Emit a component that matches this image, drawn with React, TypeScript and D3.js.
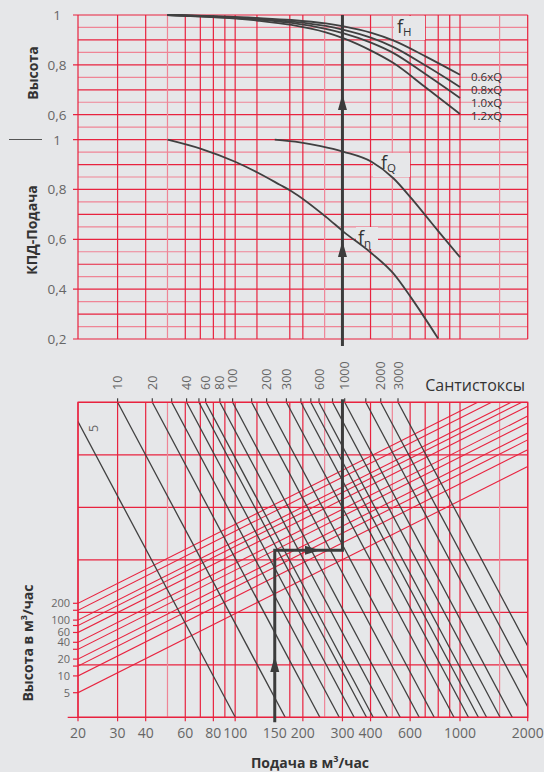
import React from "react";
import * as d3 from "d3";

// ---------- data ----------
const qTickLabels = [20, 30, 40, 60, 80, 100, 150, 200, 300, 400, 600, 1000, 2000];
const qGridBright = [20, 30, 40, 60, 70, 80, 90, 100, 125, 175, 200, 300, 400, 600, 700, 800, 900, 1000, 2000];
const qGridLight = [50, 250, 500, 1500];

const topAxisTicks = [1, 0.8, 0.6];
const midAxisTicks = [1, 0.8, 0.6, 0.4, 0.2];

// f_H curves (Q on shared axis, factor value)
const fhQ = [50, 125, 178, 253, 304, 404, 504, 709, 1000];
const fH06 = [1.0, 0.988, 0.98, 0.966, 0.954, 0.928, 0.898, 0.832, 0.76];
const fH08 = [1.0, 0.985, 0.974, 0.956, 0.94, 0.908, 0.872, 0.795, 0.711];
const fH10 = [1.0, 0.982, 0.968, 0.944, 0.926, 0.888, 0.848, 0.76, 0.667];
const fH12 = [1.0, 0.978, 0.96, 0.93, 0.906, 0.856, 0.808, 0.707, 0.603];
const fhLabels = ["0.6xQ", "0.8xQ", "1.0xQ", "1.2xQ"];

// f_Q curve
const fqQ = [150, 194, 240, 304, 404, 504, 608, 709, 812, 1000];
const fqV = [1.0, 0.989, 0.974, 0.951, 0.911, 0.846, 0.764, 0.691, 0.626, 0.528];

// f_eta curve
const feQ = [50, 70, 100, 125, 158, 178, 255, 302, 404, 504, 608, 799];
const feV = [1.0, 0.964, 0.911, 0.869, 0.819, 0.793, 0.688, 0.632, 0.544, 0.464, 0.364, 0.202];

// viscosity lines (cSt) and the Q where each crosses the top edge of the nomogram
const viscValues = [5, 10, 20, 30, 40, 50, 60, 80, 100, 150, 200, 300, 400, 500, 600, 800, 1000, 1500, 2000, 3000];
const viscTopQ = [18, 30, 42.8, 52.2, 60.8, 69, 73.9, 85.5, 97.4, 118.4, 138, 169, 196, 217, 236, 271, 307, 381, 444, 530];
const viscShown = [10, 20, 40, 60, 80, 100, 200, 300, 600, 1000, 2000, 3000];

// head lines (m)
const headValues = [200, 150, 100, 80, 60, 40, 30, 20, 15, 10, 5];
const headShown = [200, 100, 60, 40, 20, 10, 5];

// example path
const exampleQ = 150;
const exampleHead = 30;
const correctedQ = 300;

const RED = "#e8233f";
const PINK = "#ef8596";
const DARK = "#404040";
const BG = "#e6e7e9";
const FONT = "'Open Sans', 'Noto Sans', sans-serif";

export default function App() {
  const W = 544, H = 772;
  const xQ = d3.scaleLog().domain([20, 2000]).range([78, 527.7]);
  const yTop = d3.scaleLinear().domain([1, 0.6]).range([15, 114.7]);
  const yMid = d3.scaleLinear().domain([1, 0.2]).range([139.6, 339]);
  const yHead = d3.scaleLog().domain([5, 200]).range([692.7, 603.3]);
  const bTop = 402.3, bBot = 717.3;
  const headSlope = 0.503;
  const viscSlope = 1.88;
  const x0 = xQ(20), x1 = xQ(2000);
  const gTop = 15, gBot = 339;

  const topLevels = d3.range(0, 10).map((i) => 1 - i * 0.05);
  const midLevels = d3.range(0, 17).map((i) => 1 - i * 0.05);
  const bLevels = d3.range(0, 7).map((i) => bTop + (i * (bBot - bTop)) / 6);

  const lineTop = d3.line<[number, number]>().x((d) => xQ(d[0])).y((d) => yTop(d[1])).curve(d3.curveMonotoneX);
  const lineMid = d3.line<[number, number]>().x((d) => xQ(d[0])).y((d) => yMid(d[1])).curve(d3.curveMonotoneX);
  const fhSeries = [fH06, fH08, fH10, fH12];

  const headY = (h: number, q: number) => yHead(h) - headSlope * (xQ(q) - x0);
  const turnY = headY(exampleHead, exampleQ);
  const xa = xQ(exampleQ), xb = xQ(correctedQ);

  const upArrow = (x: number, tip: number) => `M${x},${tip} L${x - 4.5},${tip + 16} L${x + 4.5},${tip + 16} Z`;
  const rightArrow = (tip: number, y: number) => `M${tip},${y} L${tip - 15},${y - 4.5} L${tip - 15},${y + 4.5} Z`;

  return (
    <svg width={W} height={H} style={{ position: "absolute", left: 0, top: 0, fontFamily: FONT }}>
      <defs>
        <clipPath id="nomo">
          <rect x={x0} y={bTop} width={x1 - x0} height={bBot - bTop} />
        </clipPath>
      </defs>
      <rect x={0} y={0} width={W} height={H} fill={BG} />

      {/* ---- upper grids ---- */}
      {topLevels.map((v, i) => (
        <line key={"th" + i} x1={topAxisTicks.includes(+v.toFixed(2)) ? 73 : x0} x2={x1} y1={yTop(v)} y2={yTop(v)}
          stroke={i % 2 ? PINK : RED} strokeWidth={1.2} />
      ))}
      {midLevels.map((v, i) => (
        <line key={"mh" + i} x1={midAxisTicks.includes(+v.toFixed(2)) ? 73 : x0} x2={x1} y1={yMid(v)} y2={yMid(v)}
          stroke={i % 2 ? PINK : RED} strokeWidth={1.2} />
      ))}
      {qGridLight.map((q) => (
        <line key={"vl" + q} x1={xQ(q)} x2={xQ(q)} y1={gTop} y2={gBot} stroke={PINK} strokeWidth={1.2} />
      ))}
      {qGridBright.map((q) => (
        <line key={"vb" + q} x1={xQ(q)} x2={xQ(q)} y1={gTop} y2={gBot} stroke={RED} strokeWidth={1.2} />
      ))}

      {/* ---- lower grid ---- */}
      {bLevels.map((y, i) => (
        <line key={"bh" + i} x1={i === 6 ? 67.7 : x0} x2={x1} y1={y} y2={y} stroke={RED} strokeWidth={1.3} />
      ))}
      {qGridLight.map((q) => (
        <line key={"bvl" + q} x1={xQ(q)} x2={xQ(q)} y1={bTop} y2={bBot} stroke={PINK} strokeWidth={1.2} />
      ))}
      {qGridBright.map((q) => (
        <line key={"bvb" + q} x1={xQ(q)} x2={xQ(q)} y1={bTop} y2={bBot} stroke={RED} strokeWidth={1.2} />
      ))}
      {qTickLabels.map((q) => (
        <line key={"bt" + q} x1={xQ(q)} x2={xQ(q)} y1={bBot} y2={bBot + 4} stroke={RED} strokeWidth={1.2} />
      ))}
      {headValues.map((h) => (
        <line key={"ht" + h} x1={73} x2={x0} y1={yHead(h)} y2={yHead(h)} stroke={RED} strokeWidth={1.2} />
      ))}

      {/* label boxes */}
      <rect x={394} y={16} width={31} height={24} fill={BG} />
      <rect x={373} y={153} width={37} height={24} fill={BG} />
      <rect x={356} y={227} width={22} height={22} fill={BG} />

      {/* ---- curves ---- */}
      <g fill="none" stroke={DARK} strokeWidth={1.8}>
        {fhSeries.map((s, k) => (
          <path key={"fh" + k} d={lineTop(fhQ.map((q, i) => [q, s[i]] as [number, number])) || ""} />
        ))}
        <path d={lineMid(fqQ.map((q, i) => [q, fqV[i]] as [number, number])) || ""} />
        <path d={lineMid(feQ.map((q, i) => [q, feV[i]] as [number, number])) || ""} />
      </g>

      {/* ---- nomogram lines ---- */}
      <g clipPath="url(#nomo)">
        {headValues.map((h) => (
          <line key={"hl" + h} x1={x0} y1={headY(h, 20)} x2={x1} y2={headY(h, 2000)} stroke={RED} strokeWidth={1.1} />
        ))}
        {viscTopQ.map((q, i) => (
          <line key={"vs" + i} x1={xQ(q)} y1={bTop} x2={xQ(q) + (bBot - bTop) / viscSlope} y2={bBot}
            stroke={DARK} strokeWidth={1.3} />
        ))}
      </g>
      {viscTopQ.map((q, i) =>
        viscValues[i] === 5 ? null : (
          <line key={"vt" + i} x1={xQ(q)} x2={xQ(q)} y1={bTop - 4} y2={bTop} stroke={DARK} strokeWidth={1.2} />
        )
      )}
      <rect x={x0} y={bTop} width={x1 - x0} height={bBot - bTop} fill="none" stroke={RED} strokeWidth={1.3} />

      {/* ---- example path ---- */}
      <g stroke="#3c3c3c" strokeWidth={3} fill="none">
        <path d={`M${xa},${bBot + 5} L${xa},${turnY} L${xb},${turnY} L${xb},${bTop - 3}`} />
        <path d={`M${xb},${gBot + 7} L${xb},${gTop}`} />
      </g>
      <g fill="#3c3c3c">
        <path d={upArrow(xa, 656)} />
        <path d={rightArrow(320, turnY)} />
        <path d={upArrow(xb, 241)} />
        <path d={upArrow(xb, 94)} />
      </g>

      {/* ---- texts ---- */}
      <g fill="#666" fontSize={13.5} textAnchor="middle">
        {topAxisTicks.map((v) => (
          <text key={"tl" + v} x={57} y={yTop(v) + 5}>{v === 1 ? "1" : String(v).replace(".", ",")}</text>
        ))}
        {midAxisTicks.map((v) => (
          <text key={"ml" + v} x={57} y={yMid(v) + 5}>{v === 1 ? "1" : String(v).replace(".", ",")}</text>
        ))}
      </g>
      <g fill="#666" fontSize={11} textAnchor="end">
        {headShown.map((h) => (
          <text key={"hlab" + h} x={70} y={yHead(h) + 4}>{h}</text>
        ))}
      </g>
      <g fill="#666" fontSize={14} textAnchor="middle">
        {qTickLabels.map((q) => (
          <text key={"ql" + q} x={xQ(q)} y={738}>{q}</text>
        ))}
      </g>
      <g fill="#666" fontSize={12.5}>
        {viscTopQ.map((q, i) =>
          viscShown.includes(viscValues[i]) ? (
            <text key={"vlab" + i} transform={`translate(${xQ(q) + 4.5},390) rotate(-90)`}>{viscValues[i]}</text>
          ) : null
        )}
        <text transform={`translate(97.5,428.3) rotate(-90)`} textAnchor="middle">5</text>
      </g>
      <text x={525} y={391} fontSize={16} fill="#333" textAnchor="end">Сантистоксы</text>

      <g fill="#333" fontSize={11.5}>
        {fhLabels.map((t, i) => (
          <text key={t} x={471} y={81 + i * 13}>{t}</text>
        ))}
      </g>
      <g fill="#333">
        <text x={397} y={33} fontSize={18}>f<tspan fontSize={11.5} dy={3}>H</tspan></text>
        <text x={381} y={169} fontSize={18}>f<tspan fontSize={11.5} dy={3}>Q</tspan></text>
        <text x={358} y={244} fontSize={18}>f<tspan fontSize={11.5} dy={3}>η</tspan></text>
      </g>

      <line x1={9} x2={42} y1={139.5} y2={139.5} stroke="#555" strokeWidth={1} />
      <g fill="#333" fontSize={14} fontWeight="bold" textAnchor="middle">
        <text transform="translate(38,73) rotate(-90)">Высота</text>
        <text transform="translate(37,230) rotate(-90)">КПД-Подача</text>
        <text transform="translate(33,643) rotate(-90)">
          Высота в м<tspan fontSize={9} dy={-6}>3</tspan><tspan dy={6}>/час</tspan>
        </text>
        <text x={310} y={768}>
          Подача в м<tspan fontSize={9} dy={-6}>3</tspan><tspan dy={6}>/час</tspan>
        </text>
      </g>
    </svg>
  );
}
